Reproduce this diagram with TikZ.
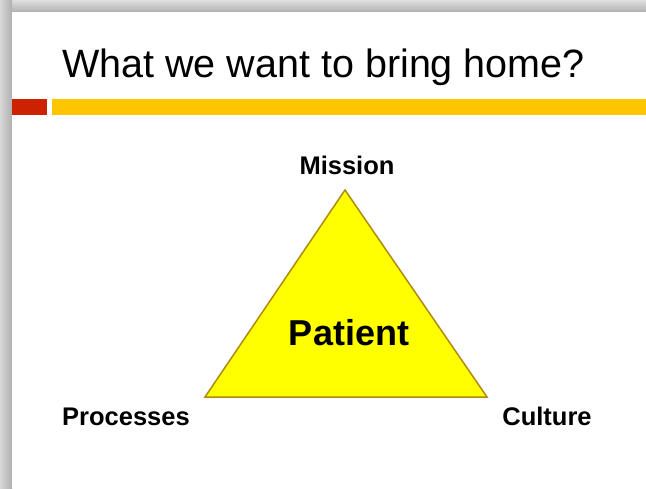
\documentclass[tikz,border=0pt]{standalone}
\usepackage{fontspec}
\setmainfont{Liberation Sans}
\definecolor{barred}{HTML}{CC2200}
\definecolor{baryellow}{HTML}{FFC600}
\definecolor{trifill}{HTML}{FFFF00}
\definecolor{triedge}{HTML}{B08A10}
\definecolor{shadowgray}{HTML}{B0B0B0}
\tikzset{
  lbl/.style={font=\fontsize{25.5}{28}\selectfont\bfseries, inner sep=0pt, anchor=base},
  tri/.style={fill=trifill, draw=triedge, line width=1.5pt, line join=miter},
}
\begin{document}
\begin{tikzpicture}[x=1pt,y=-1pt]
\useasboundingbox (0,0) rectangle (646,488);
\fill[white] (0,0) rectangle (646,488);
% shadow frame
\shade[top color=shadowgray!40, bottom color=shadowgray] (0,0) rectangle (646,12);
\shade[left color=shadowgray!50, right color=shadowgray] (0,0) rectangle (12,488);
\fill[white] (12,12) rectangle (646,488);
% title
\node[font=\fontsize{39.5}{44}\selectfont, inner sep=0pt, anchor=base west] (title) at (62,77) {What we want to bring home?};
% bars
\fill[barred] (12,99) rectangle (47,115);
\fill[baryellow] (52,99) rectangle (646,115);
% triangle
\coordinate (apex) at (345,190);
\coordinate (bl) at (205,397);
\coordinate (br) at (487,397);
\path[tri] (apex) -- (bl) -- (br) -- cycle;
\node[font=\fontsize{36}{40}\selectfont\bfseries, inner sep=0pt, anchor=base] (patient) at (349,345) {Patient};
\node[lbl] (mission) at (347,174) {Mission};
\node[lbl] (processes) at (126,425) {Processes};
\node[lbl] (culture) at (547,425) {Culture};
\end{tikzpicture}
\end{document}
